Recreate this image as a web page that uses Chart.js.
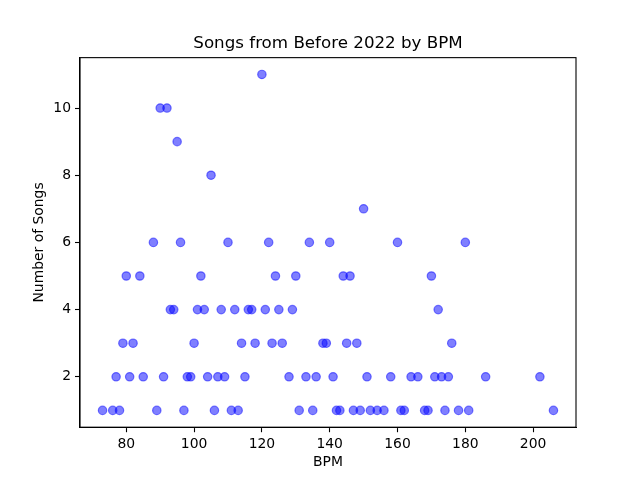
<!DOCTYPE html>
<html>
<head>
<meta charset="utf-8">
<script src="https://cdn.jsdelivr.net/npm/chart.js@4.4.1/dist/chart.umd.min.js"></script>
<style>
  html, body { margin: 0; padding: 0; background: #fff; }
  canvas { display: block; }
</style>
</head>
<body>
<canvas id="GraficoBpm" width="640" height="480"></canvas>
<script>
// songs per BPM
const bpm = [
  73, 76, 78, 89, 97, 106, 111, 113, 131, 135, 142, 143, 147, 149, 152, 154, 156, 161, 162, 168, 169, 174, 178, 181, 206,
  77, 81, 85, 91, 98, 99, 104, 107, 109, 115, 128, 133, 136, 141, 151, 158, 164, 166, 171, 173, 175, 186, 202,
  79, 82, 100, 114, 118, 123, 126, 138, 139, 145, 148, 176,
  93, 94, 101, 103, 108, 112, 116, 117, 121, 125, 129, 172,
  80, 84, 102, 124, 130, 144, 146, 170,
  88, 96, 110, 122, 134, 140, 160, 180,
  150,
  105,
  95,
  90, 92,
  120
];
const songs = [
  1, 1, 1, 1, 1, 1, 1, 1, 1, 1, 1, 1, 1, 1, 1, 1, 1, 1, 1, 1, 1, 1, 1, 1, 1,
  2, 2, 2, 2, 2, 2, 2, 2, 2, 2, 2, 2, 2, 2, 2, 2, 2, 2, 2, 2, 2, 2, 2,
  3, 3, 3, 3, 3, 3, 3, 3, 3, 3, 3, 3,
  4, 4, 4, 4, 4, 4, 4, 4, 4, 4, 4, 4,
  5, 5, 5, 5, 5, 5, 5, 5,
  6, 6, 6, 6, 6, 6, 6, 6,
  7,
  8,
  9,
  10, 10,
  11
];
const xTicks = [80, 100, 120, 140, 160, 180, 200];
const yTicks = [2, 4, 6, 8, 10];

function PegarPontos() {
  return bpm.map(function (b, i) { return { x: b, y: songs[i] }; });
}

// matplotlib draws all four spines
const moldura = {
  id: 'moldura',
  afterDraw: function (chart) {
    const a = chart.chartArea;
    const ctx = chart.ctx;
    ctx.save();
    ctx.strokeStyle = '#000';
    ctx.lineWidth = 1.1;
    ctx.strokeRect(a.left, a.top, a.right - a.left, a.bottom - a.top);
    ctx.restore();
  }
};

const fonte = "'DejaVu Sans', sans-serif";

new Chart(document.getElementById("GraficoBpm"), {
  type: 'scatter',
  data: {
    datasets: [{
      label: "Songs",
      data: PegarPontos(),
      backgroundColor: "rgba(0,0,255,0.5)",
      borderColor: "rgba(0,0,255,0.5)",
      borderWidth: 1.2,
      pointRadius: 4.2,
      pointHoverRadius: 4.2
    }]
  },
  options: {
    responsive: false,
    animation: false,
    devicePixelRatio: 1,
    // left padding 16 + right spacer 64 keeps the title centred over the plot
    layout: { padding: { left: 16, right: 0, top: 0, bottom: 0 } },
    plugins: {
      legend: { display: false },
      tooltip: { enabled: false },
      title: {
        display: true,
        text: "Songs from Before 2022 by BPM",
        color: '#000',
        font: { family: fonte, size: 16.7, weight: 'normal' },
        padding: { top: 34, bottom: 3.6 }
      }
    },
    scales: {
      x: {
        type: 'linear',
        min: 66.35,
        max: 212.65,
        afterBuildTicks: function (scale) {
          scale.ticks = xTicks.map(function (v) { return { value: v }; });
        },
        afterFit: function (scale) { scale.height = 52.8; },
        border: { display: true, color: '#000', width: 1.1 },
        grid: { drawOnChartArea: false, drawTicks: true, tickLength: 5, color: '#000', tickWidth: 1.1 },
        ticks: {
          color: '#000',
          padding: 4,
          maxRotation: 0,
          font: { family: fonte, size: 13.9 }
        },
        title: {
          display: true,
          text: "BPM",
          color: '#000',
          font: { family: fonte, size: 13.9 },
          padding: { top: 0, bottom: 9.7 }
        }
      },
      y: {
        type: 'linear',
        min: 0.5,
        max: 11.5,
        afterBuildTicks: function (scale) {
          scale.ticks = yTicks.map(function (v) { return { value: v }; });
        },
        afterFit: function (scale) { scale.width = 64; },
        border: { display: true, color: '#000', width: 1.1 },
        grid: { drawOnChartArea: false, drawTicks: true, tickLength: 5, color: '#000', tickWidth: 1.1 },
        ticks: {
          color: '#000',
          padding: 4,
          font: { family: fonte, size: 13.9 }
        },
        title: {
          display: true,
          text: "Number of Songs",
          color: '#000',
          font: { family: fonte, size: 13.9 },
          padding: { top: 15.5, bottom: 0 }
        }
      },
      espaco: {
        type: 'linear',
        position: 'right',
        display: true,
        min: 0,
        max: 1,
        afterFit: function (scale) { scale.width = 64; },
        border: { display: false },
        grid: { display: false },
        ticks: { display: false }
      }
    }
  },
  plugins: [moldura]
});
</script>
</body>
</html>
